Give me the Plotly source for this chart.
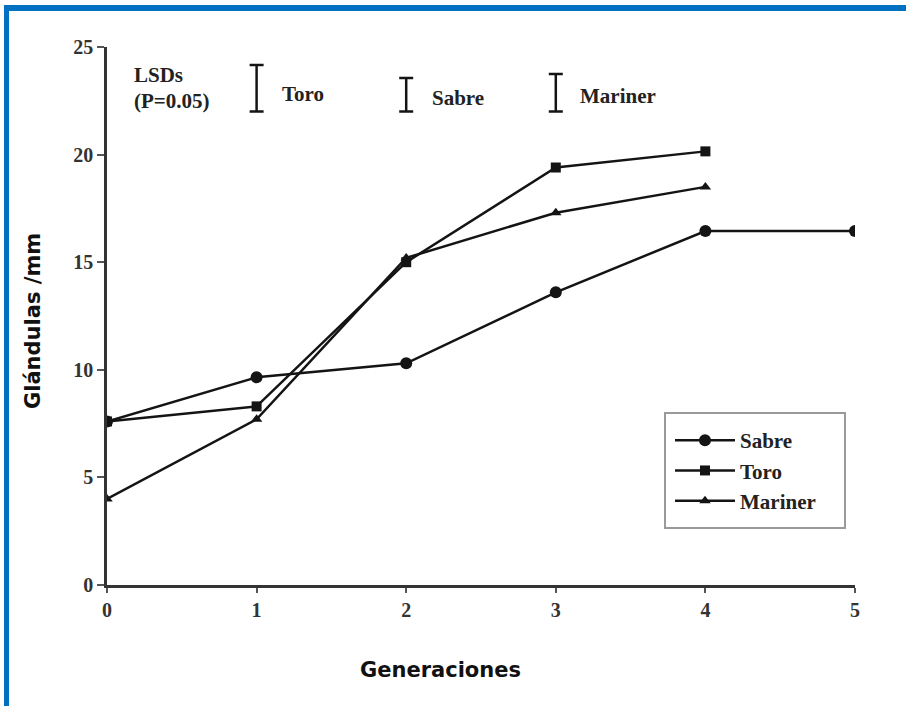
import plotly.graph_objects as go

generations = [0, 1, 2, 3, 4, 5]
sabre = [7.6, 9.65, 10.3, 13.6, 16.45, 16.45]
toro = [7.6, 8.3, 15.0, 19.4, 20.15]
mariner = [4.0, 7.7, 15.2, 17.3, 18.5]

lsd_names = ["Toro", "Sabre", "Mariner"]
lsd_x = [1.0, 2.0, 3.0]
lsd_values = [2.16, 1.56, 1.75]
lsd_base = 22.0

xticks = [0, 1, 2, 3, 4, 5]
yticks = [0, 5, 10, 15, 20, 25]

ink = "#141414"
serif = "Liberation Serif"

fig = go.Figure()
fig.add_trace(go.Scatter(x=generations, y=sabre, name="Sabre", mode="lines+markers",
                         line=dict(color=ink, width=2.5),
                         marker=dict(symbol="circle", size=12, color=ink)))
fig.add_trace(go.Scatter(x=generations[:len(toro)], y=toro, name="Toro", mode="lines+markers",
                         line=dict(color=ink, width=2.5),
                         marker=dict(symbol="square", size=10, color=ink)))
fig.add_trace(go.Scatter(x=generations[:len(mariner)], y=mariner, name="Mariner", mode="lines+markers",
                         line=dict(color=ink, width=2.5),
                         marker=dict(symbol="triangle-up", size=10, color=ink)))

# LSD bars
centers = [lsd_base + v / 2 for v in lsd_values]
fig.add_trace(go.Scatter(x=lsd_x, y=centers, mode="markers", showlegend=False,
                         marker=dict(size=1, color="rgba(0,0,0,0)"),
                         error_y=dict(type="data", array=[v / 2 for v in lsd_values],
                                      symmetric=True, color=ink, thickness=2.5, width=7),
                         hoverinfo="skip"))

annotations = []
label_x = [1.156, 2.159, 3.148]
label_y = [22.8, 22.63, 22.72]
for name, x, y in zip(lsd_names, label_x, label_y):
    annotations.append(dict(x=x, y=y, xref="x", yref="y", text="<b>%s</b>" % name,
                            showarrow=False, xanchor="left", yanchor="middle",
                            font=dict(family=serif, size=21, color="#222")))
annotations.append(dict(x=0.165, y=23.7, xref="x", yref="y", text="<b>LSDs</b>",
                        showarrow=False, xanchor="left", yanchor="middle",
                        font=dict(family=serif, size=21, color="#222")))
annotations.append(dict(x=0.165, y=22.5, xref="x", yref="y", text="<b>(P=0.05)</b>",
                        showarrow=False, xanchor="left", yanchor="middle",
                        font=dict(family=serif, size=21, color="#222")))
annotations.append(dict(x=(440 - 107) / 748, y=(585 - 670) / 538, xref="paper", yref="paper",
                        text="<b>Generaciones</b>", showarrow=False,
                        xanchor="center", yanchor="middle",
                        font=dict(family="DejaVu Sans", size=21, color="#111")))
annotations.append(dict(x=(33 - 107) / 748, y=(585 - 321) / 538, xref="paper", yref="paper",
                        text="<b>Glándulas /mm</b>", showarrow=False, textangle=-90,
                        xanchor="center", yanchor="middle",
                        font=dict(family="DejaVu Sans", size=21, color="#111")))

def px(x):
    return (x - 107) / 748

def py(y):
    return (585 - y) / 538

blue = "#0070C0"
shapes = [
    dict(type="rect", xref="paper", yref="paper",
         x0=px(4), x1=px(906), y0=py(5), y1=py(11),
         fillcolor=blue, line=dict(width=0)),
    dict(type="rect", xref="paper", yref="paper",
         x0=px(4), x1=px(9), y0=py(5), y1=py(706),
         fillcolor=blue, line=dict(width=0)),
    dict(type="rect", xref="paper", yref="paper",
         x0=px(665), x1=px(845), y0=py(413), y1=py(528),
         fillcolor="rgba(0,0,0,0)", line=dict(color="#9a9a9a", width=2)),
]

fig.update_layout(
    width=906, height=706,
    margin=dict(l=107, r=51, t=47, b=121),
    paper_bgcolor="white", plot_bgcolor="white",
    showlegend=True,
    legend=dict(x=px(670), y=py(420), xanchor="left", yanchor="top",
                borderwidth=0, bgcolor="rgba(0,0,0,0)",
                font=dict(family=serif, size=21, color="#222", weight="bold"),
                tracegroupgap=0, itemwidth=60),
    xaxis=dict(range=[0, 5], tickvals=xticks, showgrid=False, zeroline=False,
               showline=True, linecolor="#333", linewidth=2.5,
               ticks="outside", ticklen=5, tickwidth=1.5, tickcolor="#555",
               tickfont=dict(family=serif, size=20, color="#333", weight="bold")),
    yaxis=dict(range=[0, 25], tickvals=yticks, showgrid=False, zeroline=False,
               showline=True, linecolor="#333", linewidth=2.5,
               ticks="outside", ticklen=7, tickwidth=1.5, tickcolor="#555",
               tickfont=dict(family=serif, size=20, color="#333", weight="bold")),
    annotations=annotations,
    shapes=shapes,
)

fig.write_html("out.html", config={"displayModeBar": False},
               post_script="document.body.style.margin='0px';")
